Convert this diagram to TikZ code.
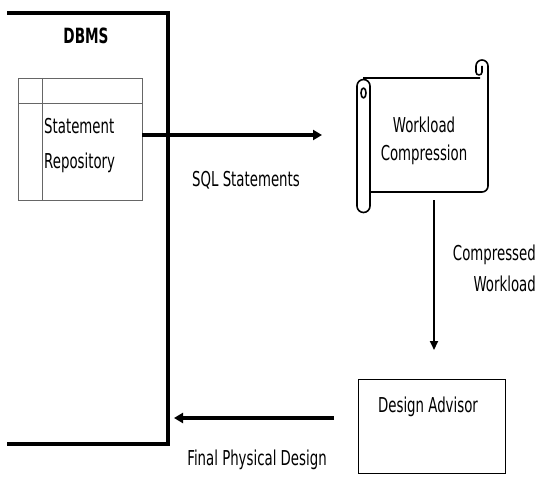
\documentclass[tikz,border=0pt]{standalone}
\usepackage{fontspec}
\newfontfamily\vf[FakeStretch=0.65]{DejaVu Sans}
\usetikzlibrary{arrows.meta}
\begin{document}
\begin{tikzpicture}[x=1pt,y=1pt,
  lbl/.style={font=\vf\fontsize{20.5}{28}\selectfont, inner sep=0pt, align=center},
  thickline/.style={line width=3.5pt},
  thickarrow/.style={line width=3.5pt,-{Triangle[length=9pt,width=10pt]}},
  thinarrow/.style={line width=2pt,-{Triangle[length=9pt,width=8pt]}},
  thinbox/.style={draw=black!60,line width=0.8pt},
  scroll/.style={line width=1.6pt,line join=round}]
\useasboundingbox (0,-476) rectangle (537,0);
% DBMS container (open on the left)
\draw[thickline] (7,-13) -- (168,-13) -- (168,-444) -- (7,-444);
\node[lbl,font=\vf\bfseries\fontsize{21}{24}\selectfont] (dbms) at (86,-36) {DBMS};
% Statement repository table
\draw[thinbox] (18,-78) rectangle (142,-200);
\draw[thinbox] (18,-103) -- (142,-103);
\draw[thinbox] (42,-78) -- (42,-200);
\node[lbl,align=left,anchor=west,font=\vf\fontsize{20.5}{35}\selectfont] (repo) at (44,-146) {Statement\\Repository};
\coordinate (repoE) at (142,-135);
% Scroll
\draw[scroll]
  (363,-78) -- (480,-78)
  (370,-192) -- (482,-192) arc[start angle=-90,end angle=0,radius=6] -- (488,-66)
  arc[start angle=0,end angle=180,radius=6] -- (476,-72) arc[start angle=180,end angle=360,radius=3] -- (482,-66);
\draw[scroll]
  (370,-90) -- (370,-206) arc[start angle=0,end angle=-180,radius=6.5] -- (357,-86)
  arc[start angle=180,end angle=0,radius=6.5] -- (370,-90);
\draw[scroll] (363.5,-93) ellipse[x radius=2.5,y radius=5];
\node[lbl] (wc) at (424,-141) {Workload\\Compression};
\coordinate (wcS) at (434,-200);
% Design advisor
\draw[draw=black,line width=1pt] (358,-379) rectangle (505,-473);
\node[lbl] (da) at (428,-407) {Design Advisor};
\coordinate (daW) at (334,-418);
\coordinate (daN) at (434,-350);
\coordinate (dbmsE) at (174,-418);
% Connectors
\draw[thickarrow] (repoE) -- (322,-135);
\node[lbl] (sql) at (246,-180) {SQL Statements};
\draw[thinarrow] (wcS) -- (daN);
\node[lbl,align=right,anchor=east,font=\vf\fontsize{20.5}{31}\selectfont] (cw) at (536,-268) {Compressed\\Workload};
\draw[thickarrow] (daW) -- (dbmsE);
\node[lbl] (fpd) at (257,-460) {Final Physical Design};
\end{tikzpicture}
\end{document}
